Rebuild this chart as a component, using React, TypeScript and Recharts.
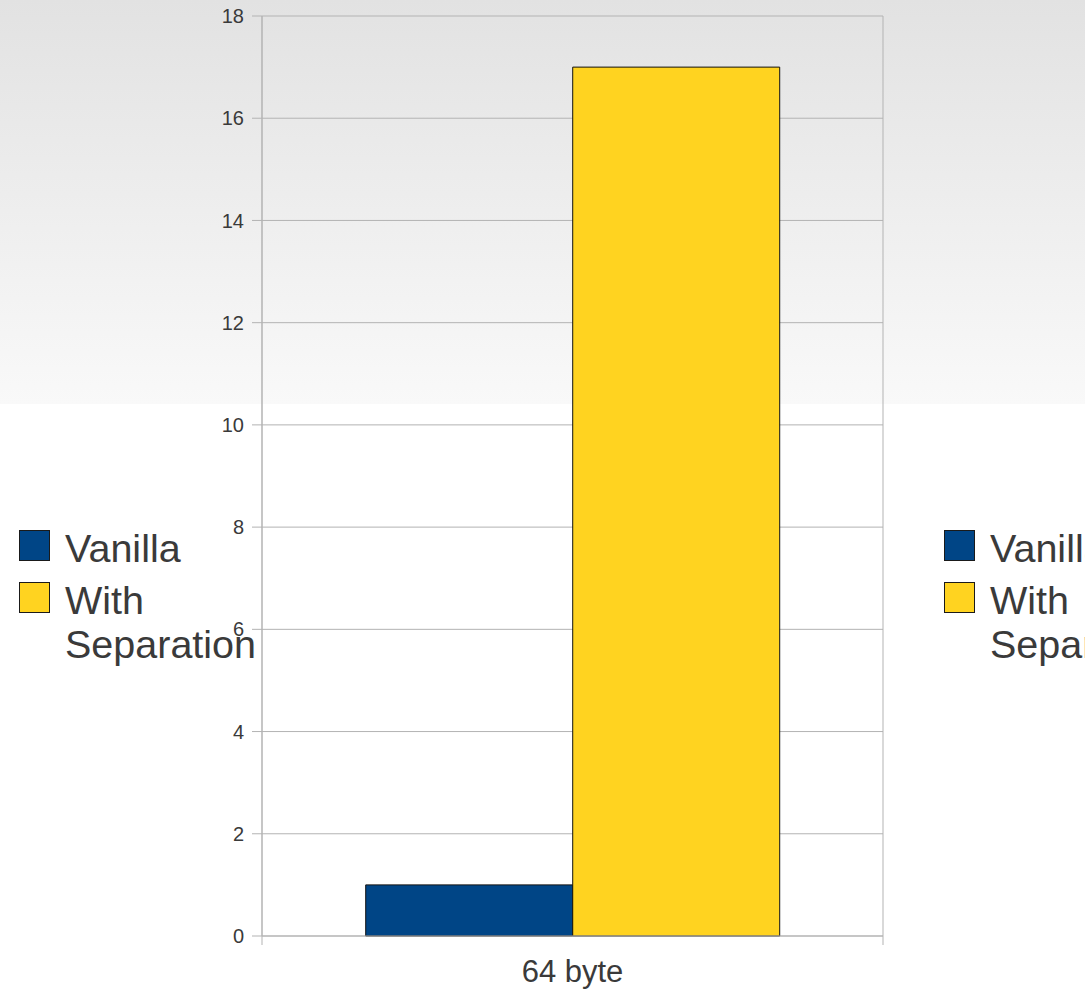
import React from "react";
import {
  BarChart,
  Bar,
  XAxis,
  YAxis,
  CartesianGrid,
  Customized,
  usePlotArea,
} from "recharts";

// ---- data ----
const categories = ["64 byte"];
const vanillaValues = [1];
const separationValues = [17];
const yTicks = [0, 2, 4, 6, 8, 10, 12, 14, 16, 18];

const seriesDefs = [
  { key: "vanilla", name: "Vanilla", color: "#004586" },
  { key: "separation", name: "With Separation", color: "#ffd320" },
];

const rows = categories.map((c, i) => ({
  category: c,
  vanilla: vanillaValues[i],
  separation: separationValues[i],
}));

// ---- layout / style ----
const WIDTH = 1085;
const HEIGHT = 990;
const FONT = '"Liberation Sans", Arial, sans-serif';
const TEXT = "#3a3a3a";
const GRID = "#b3b3b3";

// vertical frame lines at the plot edges, running a little past the baseline
function PlotFrame() {
  const area = usePlotArea();
  if (!area) return null;
  const { x, y, width, height } = area;
  const bottom = y + height + 9;
  return (
    <g>
      <line x1={x} y1={y} x2={x} y2={bottom} stroke={GRID} strokeWidth={1} />
      <line x1={x + width} y1={y} x2={x + width} y2={bottom} stroke={GRID} strokeWidth={1} />
    </g>
  );
}

function LegendBlock({ left, top }: { left: number; top: number }) {
  return (
    <div style={{ position: "absolute", left, top, fontFamily: FONT, color: TEXT }}>
      {seriesDefs.map((s) => (
        <div key={s.key} style={{ position: "relative", marginBottom: 8 }}>
          <div
            style={{
              position: "absolute",
              left: 0,
              top: 4.5,
              width: 29,
              height: 29,
              background: s.color,
              border: "1px solid #1a1a1a",
            }}
          />
          <div
            style={{
              marginLeft: 46,
              width: 200,
              fontSize: 39.5,
              lineHeight: "44px",
              whiteSpace: "normal",
            }}
          >
            {s.name}
          </div>
        </div>
      ))}
    </div>
  );
}

export default function App() {
  return (
    <div
      style={{
        position: "absolute",
        left: 0,
        top: 0,
        width: WIDTH,
        height: HEIGHT,
        overflow: "hidden",
        background:
          "linear-gradient(to bottom, #e2e2e2 0px, #f9f9f9 404px, #ffffff 404px, #ffffff 100%)",
        fontFamily: FONT,
      }}
    >
      <BarChart
        width={WIDTH}
        height={HEIGHT}
        data={rows}
        margin={{ top: 16, right: 202, bottom: 0, left: 0 }}
        barCategoryGap="16.7%"
        barGap={0}
      >
        <CartesianGrid vertical={false} stroke={GRID} strokeWidth={1} />
        <XAxis
          dataKey="category"
          height={54}
          axisLine={{ stroke: GRID }}
          tickLine={{ stroke: "none" }}
          tickSize={10}
          tickMargin={14}
          tick={{ fill: TEXT, fontSize: 31, fontFamily: FONT }}
        />
        <YAxis
          width={262}
          domain={[0, 18]}
          ticks={yTicks}
          interval={0}
          axisLine={{ stroke: GRID }}
          tickLine={{ stroke: GRID }}
          tickSize={10}
          tickMargin={8}
          tick={{ fill: TEXT, fontSize: 20, fontFamily: FONT }}
        />
        {seriesDefs.map((s) => (
          <Bar
            key={s.key}
            dataKey={s.key}
            name={s.name}
            fill={s.color}
            stroke="#111111"
            strokeWidth={1}
            isAnimationActive={false}
          />
        ))}
        <Customized component={<PlotFrame />} />
      </BarChart>
      <LegendBlock left={19} top={525.5} />
      <LegendBlock left={944} top={525.5} />
    </div>
  );
}
